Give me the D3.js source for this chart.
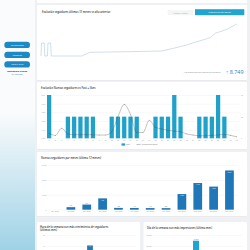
<!DOCTYPE html>
<meta charset="utf-8">
<head>
<style>
body { margin: 0; background: #eef0f3; }
svg { display: block; font-family: "Open Sans", sans-serif; }
.axis path { display: none; }
.axis line { stroke: #e6e6e6; stroke-width: 0.3; }
.axis text { fill: #9a9a9a; font-size: 1.8px; }
.title { fill: #333; font-size: 2.6px; font-weight: 600; }
</style>
</head>
<body>
<svg id="dash" width="250" height="250"></svg>
<script src="https://d3js.org/d3.v7.min.js"></script>
<script>

// --- data ---
var growthDates = ["2018-05-01","2018-05-02","2018-05-07","2018-05-08","2018-05-13","2018-05-14","2018-05-19","2018-05-20",
                   "2018-07-16","2018-07-31","2018-10-01","2018-12-12","2019-01-02","2019-01-27","2019-02-15",
                   "2019-03-12","2019-03-21","2019-04-12","2019-04-30"];
var growthValues = [21500,25050,25050,21500,21500,25050,25050,21500,
                    21500,22510,22650,22870,23600,24500,25410,
                    26500,27700,28800,30249];

var days = ["1","2","3","4","5","6","7","8","9","10","11","12","13","14","15","16",
            "17","18","19","20","21","22","23","24","25","26","27","28","29","30","31"];
var posts = [2,0,0,1,1,1,1,1,0,0,1,1,1,1,1,0,0,1,1,1,2,1,0,0,1,1,1,2,1,0,0];
var newFollowers = [7,4,14,6,5,5,5,5,4.5,4.5,9,30,47,33,8,8,25,15,13,11,10,9,6,4.5,3.5,3.5,4,4.6,5.5,4,2];

var months = ["jun. 2018","jul. 2018","ago. 2018","sep. 2018","oct. 2018","nov. 2018",
              "dic. 2018","ene. 2019","feb. 2019","mar. 2019","abr. 2019","may. 2019"];
var monthFollowers = [0,170,345,760,120,115,110,105,1050,1790,1550,2634];

var weekDays = ["lun.","mar.","mié.","jue.","vie.","sáb.","dom."];
var growthByDay = [14,12,16,41,15,11,13];
var impressionsByDay = [13200,15400,14100,24800,12800,11900,12600];

var es = d3.formatLocale({decimal: ",", thousands: ".", grouping: [3], currency: ["", "€"]});
var fmt = es.format(",d");

var svg = d3.select("#dash");

// --- background + sidebar ---
var defs = svg.append("defs");
var grad = defs.append("linearGradient").attr("id", "side").attr("x1", 0).attr("y1", 0).attr("x2", 0).attr("y2", 1);
grad.append("stop").attr("offset", "45%").attr("stop-color", "#fafbfc");
grad.append("stop").attr("offset", "100%").attr("stop-color", "#9fd2e6");
var sh = defs.append("filter").attr("id", "shadow").attr("x", "-5%").attr("y", "-5%").attr("width", "110%").attr("height", "110%");
sh.append("feDropShadow").attr("dx", 0).attr("dy", 0.3).attr("stdDeviation", 0.4).attr("flood-color", "#000").attr("flood-opacity", 0.08);

svg.append("rect").attr("width", 250).attr("height", 250).attr("fill", "#eef0f3");
svg.append("rect").attr("width", 35).attr("height", 250).attr("fill", "url(#side)");

var menu = ["Ver seguidores", "Contenido", "Volver a inicio"];
var menuY = [41.7, 51.7, 61.2];
menu.forEach(function(m, i) {
  svg.append("rect").attr("x", 4.3).attr("y", menuY[i]).attr("width", 25.7).attr("height", 6.4)
    .attr("rx", 3.2).attr("fill", "#1b8ac4");
  svg.append("text").attr("x", 17.2).attr("y", menuY[i] + 3.9).attr("text-anchor", "middle")
    .attr("fill", "#fff").style("font-size", "1.9px").text(m);
});
svg.append("text").attr("x", 17.2).attr("y", 72).attr("text-anchor", "middle")
  .attr("fill", "#333").style("font-size", "2.2px").style("font-weight", 700).text("Dashboard creado");
svg.append("text").attr("x", 17.2).attr("y", 75.2).attr("text-anchor", "middle")
  .attr("fill", "#555").style("font-size", "1.9px").text("by ")
  .append("tspan").attr("fill", "#1b8ac4").text("Metricool");

// cards
function card(x, y, w, h) {
  svg.append("rect").attr("x", x).attr("y", y).attr("width", w).attr("height", h)
    .attr("rx", 1).attr("fill", "#fff").attr("filter", "url(#shadow)");
}
card(37, -6, 210, 9.3);
card(37, 5, 210, 75);
card(37, 82, 210, 67);
card(37, 152, 210, 64);
card(37, 222, 103, 40);
card(143.5, 222, 103.5, 40);

// --- card 1: evolución seguidores ---
svg.append("text").attr("class", "title").attr("x", 42).attr("y", 13.2)
  .text("Evolución seguidores últimos 12 meses vs año anterior");
svg.append("rect").attr("x", 168).attr("y", 10.7).attr("width", 25).attr("height", 4.3)
  .attr("fill", "#f4f5f6").attr("stroke", "#e3e3e3").attr("stroke-width", 0.2);
svg.append("text").attr("x", 180.5).attr("y", 13.5).attr("text-anchor", "middle")
  .attr("fill", "#aaa").style("font-size", "1.7px").text("Últimos 12 meses");
svg.append("rect").attr("x", 195).attr("y", 9.2).attr("width", 49.3).attr("height", 6)
  .attr("fill", "#1fa5cf");
svg.append("text").attr("x", 219.6).attr("y", 12.8).attr("text-anchor", "middle")
  .attr("fill", "#fff").style("font-size", "1.8px").text("Comparar con año anterior");

var parse = d3.timeParse("%Y-%m-%d");
var growth = growthDates.map(function(d, i) { return {date: parse(d), value: growthValues[i]}; });
var xTime = d3.scaleTime().domain([parse("2018-05-01"), parse("2019-04-30")]).range([41, 236.7]);
var yGrowth = d3.scaleLinear().domain([21500, 30249]).range([56, 24]);
svg.append("path").datum(growth)
  .attr("fill", "none").attr("stroke", "#9cc3d3").attr("stroke-width", 0.5)
  .attr("d", d3.line().x(function(d) { return xTime(d.date); }).y(function(d) { return yGrowth(d.value); }));

svg.append("text").attr("x", 220.5).attr("y", 73).attr("text-anchor", "end")
  .attr("fill", "#888").style("font-size", "1.8px").text("Has conseguido este número de seguidores");
svg.append("text").attr("x", 243.5).attr("y", 74).attr("text-anchor", "end")
  .attr("fill", "#1d80b8").style("font-size", "5.4px")
  .text("↑ " + fmt(d3.sum(monthFollowers)));

// --- card 2: nuevos seguidores vs post ---
svg.append("text").attr("class", "title").attr("x", 41).attr("y", 89)
  .text("Evolución Nuevos seguidores vs Post + likes");
var x2 = d3.scaleBand().domain(days).range([46, 240]).paddingInner(0.32).paddingOuter(0.16);
var y2 = d3.scaleLinear().domain([0, 2]).range([138.3, 95]);
var y2r = d3.scaleLinear().domain([0, 60]).range([138.3, 95]);

svg.append("g").attr("class", "axis").attr("transform", "translate(46,0)")
  .call(d3.axisLeft(y2).tickValues([0, 0.4, 0.8, 1.2, 1.6, 2]).tickSize(-194).tickPadding(1)
    .tickFormat(es.format(",.2f")));
svg.append("g").attr("class", "axis").attr("transform", "translate(240,0)")
  .call(d3.axisRight(y2r).tickValues([0, 30, 60]).tickSize(0).tickPadding(1));
svg.append("g").attr("class", "axis").attr("transform", "translate(0,138.3)")
  .call(d3.axisBottom(x2).tickSize(0).tickPadding(1.6));

svg.append("g").selectAll("rect").data(posts).enter().append("rect")
  .attr("x", function(d, i) { return x2(days[i]); })
  .attr("y", function(d) { return y2(d); })
  .attr("width", x2.bandwidth())
  .attr("height", function(d) { return y2(0) - y2(d); })
  .attr("fill", "#1fa1c9");

var line2 = d3.line().curve(d3.curveMonotoneX)
  .x(function(d, i) { return x2(days[i]) + x2.bandwidth() / 2; })
  .y(function(d) { return y2r(d); });
svg.append("path").datum(newFollowers).attr("fill", "none")
  .attr("stroke", "#555").attr("stroke-width", 0.35).attr("d", line2);
svg.append("g").selectAll("circle").data(newFollowers).enter().append("circle")
  .attr("cx", function(d, i) { return x2(days[i]) + x2.bandwidth() / 2; })
  .attr("cy", function(d) { return y2r(d); })
  .attr("r", 0.3).attr("fill", "#555");

// legend
svg.append("rect").attr("x", 121.5).attr("y", 143.4).attr("width", 3.6).attr("height", 2.2).attr("fill", "#1fa1c9");
svg.append("text").attr("x", 126).attr("y", 145.3).attr("fill", "#777").style("font-size", "1.8px").text("Post");
svg.append("line").attr("x1", 136.5).attr("x2", 140.5).attr("y1", 144.5).attr("y2", 144.5)
  .attr("stroke", "#555").attr("stroke-width", 0.35);
svg.append("text").attr("x", 141.5).attr("y", 145.3).attr("fill", "#777").style("font-size", "1.8px").text("Nuevos seguidores");

// --- card 3: nuevos seguidores por meses ---
svg.append("text").attr("class", "title").attr("x", 41).attr("y", 158.6)
  .text("Nuevos seguidores por meses (último 12 meses)");
var x3 = d3.scaleBand().domain(months).range([47.5, 237]).paddingInner(0.45).paddingOuter(0.2);
var y3 = d3.scaleLinear().domain([0, 3000]).range([209.7, 165]);
svg.append("g").attr("class", "axis").attr("transform", "translate(47.5,0)")
  .call(d3.axisLeft(y3).tickValues([0, 1000, 2000, 3000]).tickSize(-189.5).tickPadding(1).tickFormat(fmt));
svg.append("g").attr("class", "axis").attr("transform", "translate(0,209.7)")
  .call(d3.axisBottom(x3).tickSize(0).tickPadding(1.3));

svg.append("g").selectAll("rect").data(monthFollowers).enter().append("rect")
  .attr("x", function(d, i) { return x3(months[i]); })
  .attr("y", function(d) { return y3(d); })
  .attr("width", x3.bandwidth())
  .attr("height", function(d) { return y3(0) - y3(d); })
  .attr("fill", "#1f77b8");
svg.append("g").selectAll("text").data(monthFollowers).enter().append("text")
  .filter(function(d) { return d > 0; })
  .attr("x", function(d) { return x3(months[monthFollowers.indexOf(d)]) + x3.bandwidth() / 2; })
  .attr("y", function(d) { return d > 500 ? y3(d) + 2.4 : y3(d) - 0.8; })
  .attr("text-anchor", "middle")
  .attr("fill", function(d) { return d > 500 ? "#fff" : "#666"; })
  .style("font-size", "1.5px")
  .text(function(d) { return fmt(d); });

// --- card 4: hora / día con más crecimiento (only upper part is in view) ---
svg.append("text").attr("class", "title").attr("x", 40).attr("y", 227.5)
  .text("Hora de la semana con más crecimiento de seguidores");
svg.append("text").attr("class", "title").attr("x", 40).attr("y", 230.6).text("(últimos mes)");
var x4 = d3.scaleBand().domain(weekDays).range([44, 136]).paddingInner(0.56).paddingOuter(0.3);
var y4 = d3.scaleLinear().domain([0, 60]).range([268, 235]);
svg.append("g").attr("class", "axis").attr("transform", "translate(46,0)")
  .call(d3.axisLeft(y4).tickValues([40, 60]).tickSize(-90).tickPadding(1));
svg.append("g").selectAll("rect").data(growthByDay).enter().append("rect")
  .attr("x", function(d, i) { return x4(weekDays[i]); })
  .attr("y", function(d) { return y4(d); })
  .attr("width", x4.bandwidth())
  .attr("height", function(d) { return y4(0) - y4(d); })
  .attr("fill", "#2a77b0");
svg.append("text").attr("x", x4("jue.") + x4.bandwidth() / 2).attr("y", y4(41) + 1.8)
  .attr("text-anchor", "middle").attr("fill", "#fff").style("font-size", "1.4px").text("41");

// --- card 5: día con más impresiones ---
svg.append("text").attr("class", "title").attr("x", 147).attr("y", 228.6)
  .text("Día de la semana con más impresiones (último mes)");
var x5 = d3.scaleBand().domain(weekDays).range([148, 244]).paddingInner(0.56).paddingOuter(0.3);
var y5 = d3.scaleLinear().domain([0, 30000]).range([268, 235]);
svg.append("g").attr("class", "axis").attr("transform", "translate(153,0)")
  .call(d3.axisLeft(y5).tickValues([20000, 30000]).tickSize(-90).tickPadding(1).tickFormat(fmt));
svg.append("g").selectAll("rect").data(impressionsByDay).enter().append("rect")
  .attr("x", function(d, i) { return x5(weekDays[i]); })
  .attr("y", function(d) { return y5(d); })
  .attr("width", x5.bandwidth())
  .attr("height", function(d) { return y5(0) - y5(d); })
  .attr("fill", "#1fa5cf");
svg.append("text").attr("x", x5("jue.") + x5.bandwidth() / 2).attr("y", y5(24800) - 0.8)
  .attr("text-anchor", "middle").attr("fill", "#3aa37a").style("font-size", "1.5px").text(fmt(24800));

</script>
</body>
</html>
